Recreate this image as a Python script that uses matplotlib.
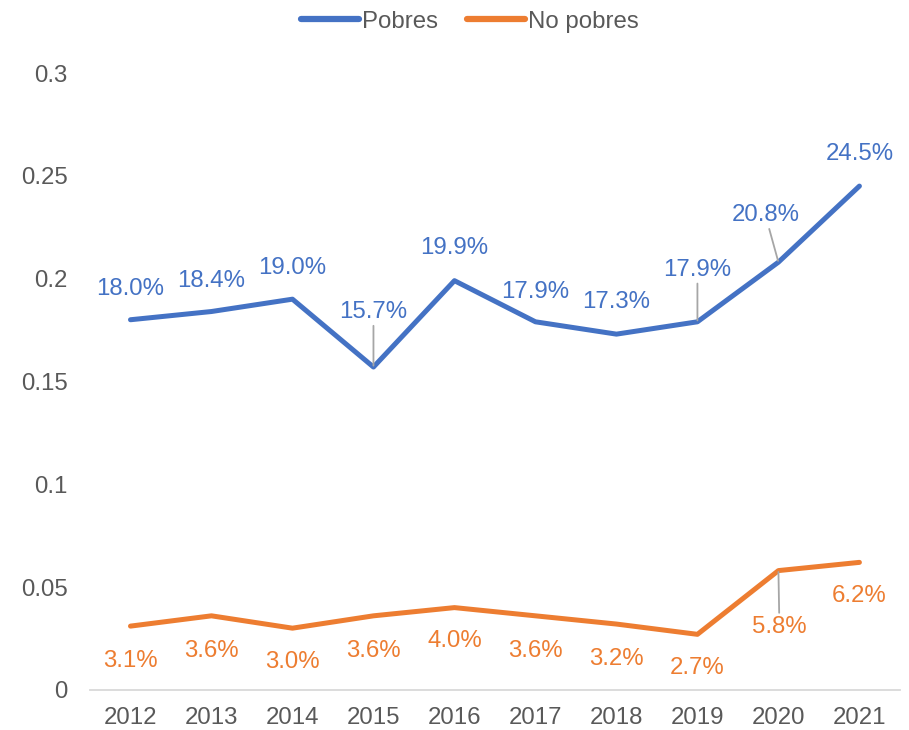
import matplotlib.pyplot as plt
from matplotlib.ticker import FuncFormatter

# Datos
years = ['2012', '2013', '2014', '2015', '2016', '2017', '2018', '2019', '2020', '2021']
pobres = [0.180, 0.184, 0.190, 0.157, 0.199, 0.179, 0.173, 0.179, 0.208, 0.245]
no_pobres = [0.031, 0.036, 0.030, 0.036, 0.040, 0.036, 0.032, 0.027, 0.058, 0.062]

# Desplazamiento de etiquetas (pixeles)
off_pobres = [(0, 31), (0, 31), (0, 31), (0, 55), (0, 33), (0, 30), (0, 32), (0, 52), (-13, 47), (0, 32)]
off_no_pobres = [(0, -35), (0, -35), (0, -34), (0, -35), (0, -33), (0, -35), (0, -35), (0, -34), (1, -56), (0, -34)]
leader_pobres = [3, 7, 8]
leader_no_pobres = [8]

BLUE = '#4472C4'
ORANGE = '#ED7D31'
GRAY = '#595959'
FS = 17.3

plt.rcParams['font.family'] = ['Liberation Sans', 'DejaVu Sans']

fig = plt.figure(figsize=(9.09, 7.3), dpi=100)
ax = fig.add_axes([0.099, 0.055, 0.891, 0.845])

x = list(range(len(years)))
ax.plot(x, pobres, color=BLUE, lw=3.6, solid_capstyle='round', solid_joinstyle='round', label='Pobres')
ax.plot(x, no_pobres, color=ORANGE, lw=3.6, solid_capstyle='round', solid_joinstyle='round', label='No pobres')


def add_labels(values, offsets, leaders, color):
    for i, v in enumerate(values):
        arrow = None
        if i in leaders:
            arrow = dict(arrowstyle='-', color='#A6A6A6', lw=1.3, shrinkA=0, shrinkB=1)
        ax.annotate(f"{v * 100:.1f}%", xy=(i, v), xytext=offsets[i], textcoords='offset pixels',
                    ha='center', va='center', fontsize=FS, color=color, arrowprops=arrow)


add_labels(pobres, off_pobres, leader_pobres, BLUE)
add_labels(no_pobres, off_no_pobres, leader_no_pobres, ORANGE)

ax.set_xlim(-0.5, len(years) - 0.5)
ax.set_ylim(0, 0.3)
ax.set_xticks(x)
ax.set_xticklabels(years)
ax.set_yticks([0, 0.05, 0.1, 0.15, 0.2, 0.25, 0.3])
ax.yaxis.set_major_formatter(FuncFormatter(lambda v, p: f"{v:g}"))
ax.tick_params(axis='both', length=0, labelsize=FS, labelcolor=GRAY)
ax.tick_params(axis='y', pad=16)
ax.tick_params(axis='x', pad=12)

for s in ['top', 'right', 'left']:
    ax.spines[s].set_visible(False)
ax.spines['bottom'].set_color('#D9D9D9')
ax.spines['bottom'].set_linewidth(1.3)

leg = fig.legend(loc='center', bbox_to_anchor=(0.517, 0.97), ncol=2, frameon=False,
                 fontsize=FS, handlelength=2.4, handletextpad=0.15, columnspacing=1.2)
for line in leg.get_lines():
    line.set_linewidth(4.5)
for t in leg.get_texts():
    t.set_color(GRAY)

fig.savefig('out.png', dpi=100)
